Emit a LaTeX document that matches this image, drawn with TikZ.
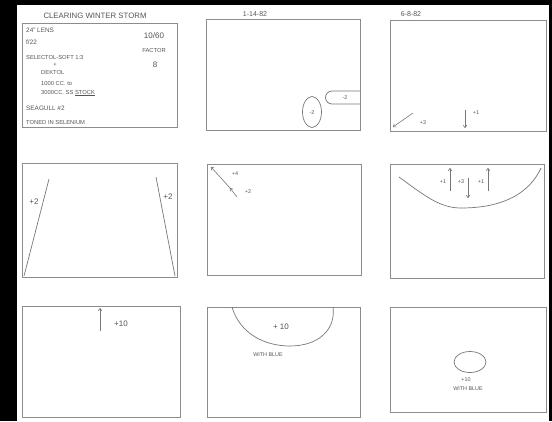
\documentclass[tikz,border=0pt]{standalone}
\usepackage{fontspec}
\setmainfont{Liberation Sans}
\usetikzlibrary{arrows.meta}
\definecolor{pen}{HTML}{8C8C8C}
\definecolor{ink}{HTML}{555555}
\tikzset{
  frame/.style={draw=pen, line width=0.8pt},
  sketch/.style={draw=ink!80, line width=0.7pt},
  arr/.style={draw=ink!80, line width=0.6pt, -{To[length=3pt,width=4pt]}},
  note/.style={text=ink, font=\fontsize{5.8}{6}\selectfont, inner sep=0pt},
  lab/.style={text=ink, font=\fontsize{8}{9}\selectfont, inner sep=0pt},
  tiny/.style={text=ink, font=\fontsize{5.4}{6}\selectfont, inner sep=0pt},
  datelab/.style={text=ink, font=\fontsize{7}{8}\selectfont, inner sep=0pt},
}
\begin{document}
\begin{tikzpicture}[x=1pt,y=-1pt]
\useasboundingbox (0,0) rectangle (552,421);
\fill[white] (0,0) rectangle (552,421);
% black margins
\fill[black] (0,0) rectangle (17,421);
\fill[black] (17,0) rectangle (552,5);
\fill[black] (549,0) rectangle (552,421);

% ---------- panel 1 : notes ----------
\node[text=ink, font=\fontsize{7.8}{8}\selectfont, inner sep=0pt] (title) at (95,16) {CLEARING WINTER STORM};
\draw[frame] (22,23) rectangle (177,127);
\node[note, anchor=west, font=\fontsize{6.4}{7}\selectfont] (n1) at (26,30) {24" LENS};
\node[note, anchor=west, font=\fontsize{6.4}{7}\selectfont] (n2) at (26,42) {f/22};
\node[note, anchor=west] (n3) at (26,57) {SELECTOL-SOFT 1:3};
\node[note] (n4) at (55,65) {+};
\node[note, anchor=west] (n5) at (41,73) {DEKTOL};
\node[note, anchor=west] (n6) at (41,84) {1000 CC. to};
\node[note, anchor=west] (n7) at (41,93) {3000CC. SS \underline{STOCK}};
\node[note, anchor=west, font=\fontsize{6.4}{7}\selectfont] (n8) at (26,108) {SEAGULL \#2};
\node[note, anchor=west] (n9) at (26,122) {TONED IN SELENIUM};
\node[lab] (n10) at (154,36) {10/60};
\node[note] (n11) at (154,51) {FACTOR};
\node[lab] (n12) at (155,65) {8};

% ---------- panel 2 ----------
\node[datelab] (d2) at (255,14) {1-14-82};
\draw[frame] (206,19) rectangle (360,130);
\draw[sketch] (312,112) ellipse [x radius=9.5, y radius=15.5];
\node[tiny] (e2) at (312,113) {-2};
\draw[sketch] (360,91) -- (332,91) arc[start angle=-90, end angle=-270, radius=6.5] -- (360,104);
\node[tiny] (b2) at (345,97.5) {-2};

% ---------- panel 3 ----------
\node[datelab] (d3) at (411,14) {6-8-82};
\draw[frame] (390,20) rectangle (546,131);
\coordinate (a3s) at (413,113);
\coordinate (a3e) at (393,127);
\draw[arr] (a3s) -- (a3e);
\node[tiny] (l3a) at (423,123) {+3};
\coordinate (b3s) at (465,110);
\coordinate (b3e) at (465,128);
\draw[arr] (b3s) -- (b3e);
\node[tiny] (l3b) at (476,113) {+1};

% ---------- panel 4 ----------
\draw[frame] (22,163) rectangle (177,277);
\coordinate (l4t) at (49,179);
\coordinate (l4b) at (24,276);
\draw[sketch] (l4t) -- (l4b);
\node[lab, fill=white, inner sep=0.3pt] (l4a) at (34,202) {+2};
\coordinate (r4t) at (156,177);
\coordinate (r4b) at (175,276);
\draw[sketch] (r4t) -- (r4b);
\node[lab, fill=white, inner sep=0.3pt] (l4c) at (168,197) {+2};

% ---------- panel 5 ----------
\draw[frame] (207,164) rectangle (361,275);
\coordinate (p5a) at (230,188);
\coordinate (p5b) at (211,167);
\coordinate (p5c) at (237,197);
\draw[arr] (p5a) -- (p5b);
\draw[arr] (p5c) -- (p5a);
\node[tiny] (l5a) at (235,174) {+4};
\node[tiny] (l5b) at (248,192) {+2};

% ---------- panel 6 ----------
\draw[frame] (390,164) rectangle (544,278);
\coordinate (c6a) at (399,177);
\coordinate (c6b) at (461,208);
\coordinate (c6c) at (541,168);
\draw[sketch] (c6a) .. controls (425,196) and (440,208) .. (c6b)
  .. controls (505,208) and (530,192) .. (c6c);
\coordinate (u1s) at (450,191); \coordinate (u1e) at (450,168);
\coordinate (dns) at (468,178); \coordinate (dne) at (468,198);
\coordinate (u3s) at (488,191); \coordinate (u3e) at (488,168);
\draw[arr] (u1s) -- (u1e);
\draw[arr] (dns) -- (dne);
\draw[arr] (u3s) -- (u3e);
\node[tiny] (l6a) at (443,182) {+1};
\node[tiny] (l6b) at (461,182) {+3};
\node[tiny] (l6c) at (481,182) {+1};

% ---------- panel 7 ----------
\draw[frame] (22,306) rectangle (180,417);
\coordinate (u7s) at (100,331);
\coordinate (u7e) at (100,308);
\draw[arr] (u7s) -- (u7e);
\node[lab] (l7) at (121,324) {+10};

% ---------- panel 8 ----------
\draw[frame] (207,307) rectangle (360,417);
\coordinate (h8a) at (232,307);
\coordinate (h8b) at (290,346);
\coordinate (h8c) at (333,307);
\draw[sketch] (h8a) .. controls (240,334) and (265,346) .. (h8b)
  .. controls (318,346) and (336,330) .. (h8c);
\node[lab] (l8a) at (281,327) {+ 10};
\node[tiny] (l8b) at (268,355) {WITH BLUE};

% ---------- panel 9 ----------
\draw[frame] (390,307) rectangle (546,412);
\draw[sketch] (470,362) ellipse [x radius=16, y radius=10.5];
\node[tiny] (l9a) at (466,380) {+10};
\node[tiny] (l9b) at (468,389) {WITH BLUE};
\end{tikzpicture}
\end{document}
